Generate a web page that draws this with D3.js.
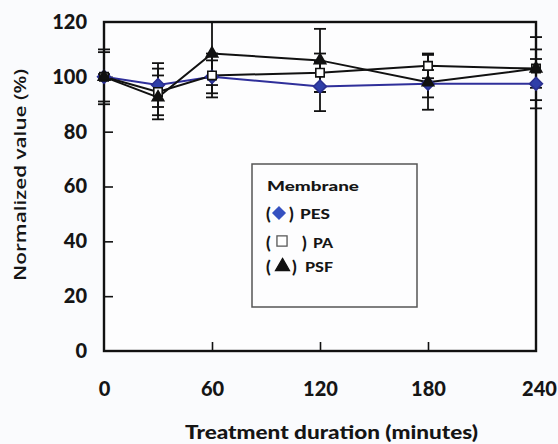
<!DOCTYPE html>
<html><head><meta charset="utf-8">
<script src="https://cdn.jsdelivr.net/npm/d3@7"></script>
<style>html,body{margin:0;padding:0;background:#fafbfd;}svg{display:block;}</style>
</head><body>
<script>
const times = [0, 30, 60, 120, 180, 240];
const xTicks = [0, 60, 120, 180, 240];
const yTicks = [0, 20, 40, 60, 80, 100, 120];
const pes = [100, 97, 100, 96.5, 97.5, 97.5];
const pesErr = [10, 8, 6, 9, 5, 9];
const pa = [100, 94.5, 100.5, 101.5, 104, 103];
const paErr = [9, 8.5, 8, 7, 4.5, 7];
const psf = [100, 92.5, 108.5, 106, 98, 103];
const psfErr = [1, 8, 11.5, 11.5, 10, 11.5];
const seriesNames = ["PES", "PA", "PSF"];

const W = 558, H = 444;
const svg = d3.select("body").append("svg").attr("width", W).attr("height", H);
svg.append("rect").attr("width", W).attr("height", H).attr("fill", "#fafbfd");

const x = d3.scaleLinear().domain([0, 240]).range([104, 536]);
const y = d3.scaleLinear().domain([0, 120]).range([351, 22]);
const font = "Lato, 'Open Sans', sans-serif";

// frame
svg.append("rect").attr("x", x(0)).attr("y", y(120)).attr("width", x(240) - x(0)).attr("height", y(0) - y(120))
  .attr("fill", "#fdfdfe").attr("stroke", "#111").attr("stroke-width", 2.4);

// axes
const yAxis = d3.axisLeft(y).tickValues(yTicks).tickSize(-9).tickPadding(17).tickFormat(d3.format("d"));
const gy = svg.append("g").attr("transform", `translate(${x(0)},0)`).call(yAxis);
const xAxis = d3.axisBottom(x).tickValues(xTicks).tickSize(-9).tickPadding(31).tickFormat(d3.format("d"));
const gx = svg.append("g").attr("transform", `translate(0,${y(0)})`).call(xAxis);
[gx, gy].forEach(g => {
  g.select(".domain").remove();
  g.selectAll(".tick line").attr("stroke", "#111").attr("stroke-width", 1.6);
  g.selectAll(".tick text").attr("font-family", font).attr("font-weight", 900)
    .attr("font-size", 20).attr("fill", "#151515");
});
gy.selectAll(".tick").filter(d => d === 0 || d === 120).select("line").remove();
gx.selectAll(".tick").filter(d => d === 0 || d === 240).select("line").remove();
gx.selectAll(".tick").filter(d => d === 240).select("text").attr("dx", 3);

svg.append("text").attr("x", 331.5).attr("y", 439).attr("text-anchor", "middle")
  .attr("font-family", font).attr("font-weight", 900).attr("font-size", 19.5).attr("fill", "#151515")
  .attr("textLength", 293).attr("lengthAdjust", "spacingAndGlyphs")
  .text("Treatment duration (minutes)");
svg.append("text").attr("transform", "translate(26,175) rotate(-90)").attr("text-anchor", "middle")
  .attr("font-family", "'Open Sans', sans-serif").attr("font-weight", 600).attr("font-size", 15.5).attr("fill", "#151515")
  .attr("textLength", 212).attr("lengthAdjust", "spacingAndGlyphs")
  .text("Normalized value (%)");

const series = [
  {name: seriesNames[0], vals: pes, err: pesErr, line: "#2f2f9a", sym: d3.symbolDiamond2, fill: "#2f3fa8", stroke: "#2a2f90", size: 105},
  {name: seriesNames[1], vals: pa, err: paErr, line: "#111", sym: d3.symbolSquare2, fill: "#fff", stroke: "#111", size: 90},
  {name: seriesNames[2], vals: psf, err: psfErr, line: "#111", sym: d3.symbolTriangle2, fill: "#111", stroke: "#111", size: 95}
];

const line = d3.line().x(d => x(d[0])).y(d => y(d[1]));
// error bars
series.forEach(s => {
  const g = svg.append("g").attr("stroke", "#111").attr("stroke-width", 1.8);
  times.forEach((t, i) => {
    const lo = y(s.vals[i] - s.err[i]), hi = y(s.vals[i] + s.err[i]);
    g.append("line").attr("x1", x(t)).attr("x2", x(t)).attr("y1", lo).attr("y2", hi);
    g.append("line").attr("x1", x(t) - 6).attr("x2", x(t) + 6).attr("y1", lo).attr("y2", lo);
    g.append("line").attr("x1", x(t) - 6).attr("x2", x(t) + 6).attr("y1", hi).attr("y2", hi);
  });
});
// lines and markers
series.forEach(s => {
  svg.append("path").datum(times.map((t, i) => [t, s.vals[i]])).attr("d", line)
    .attr("fill", "none").attr("stroke", s.line).attr("stroke-width", 2);
});
series.forEach(s => {
  svg.append("g").selectAll("path").data(times.map((t, i) => [t, s.vals[i]])).join("path")
    .attr("transform", d => `translate(${x(d[0])},${y(d[1])})`)
    .attr("d", d3.symbol().type(s.sym).size(s.size))
    .attr("fill", s.fill).attr("stroke", s.stroke).attr("stroke-width", 1.6);
});

// legend
const lg = svg.append("g");
lg.append("rect").attr("x", 252).attr("y", 164).attr("width", 165).attr("height", 143)
  .attr("fill", "#fdfdfe").attr("stroke", "#555").attr("stroke-width", 1.5);
const lt = (tx, ty, txt, len, fs) => {
  const t = lg.append("text").attr("x", tx).attr("y", ty).attr("font-family", font)
    .attr("font-weight", 900).attr("font-size", fs || 14).attr("fill", "#151515").text(txt);
  if (len) t.attr("textLength", len).attr("lengthAdjust", "spacingAndGlyphs");
  return t;
};
lt(267, 190.5, "Membrane", 92);
const rows = [
  {y: 219, cx: 279, cy: 213, close: 289, tx: 300, len: 30, size: 95, s: series[0]},
  {y: 248, cx: 282, cy: 241, close: 302, tx: 313, len: 20, size: 130, s: series[1]},
  {y: 272, cx: 282.5, cy: 266.5, close: 292, tx: 305, len: 28, size: 140, s: series[2]}
];
rows.forEach(r => {
  lt(266, r.y + 1, "(", null, 17);
  lt(r.close, r.y + 1, ")", null, 17);
  lt(r.tx, r.y, r.s.name, r.len);
  lg.append("path").attr("transform", `translate(${r.cx},${r.cy})`)
    .attr("d", d3.symbol().type(r.s.sym).size(r.size))
    .attr("fill", r.s === series[0] ? "#3550c0" : r.s.fill)
    .attr("stroke", r.s === series[1] ? "#555" : (r.s === series[0] ? "#3550c0" : r.s.stroke)).attr("stroke-width", 1.3);
});
</script>
</body></html>
